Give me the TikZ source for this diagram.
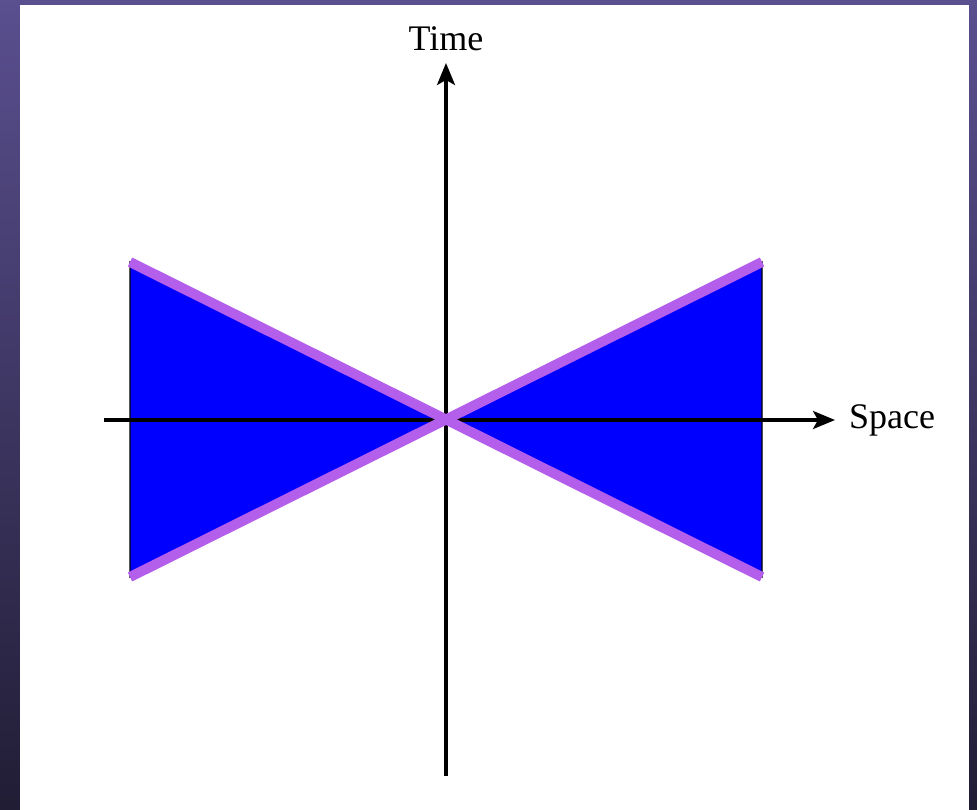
\documentclass[tikz,border=0pt]{standalone}
\usepackage{fontspec}
\setmainfont{Liberation Serif}
\usetikzlibrary{arrows.meta}
\definecolor{bgtop}{HTML}{5A4F8F}
\definecolor{bgbot}{HTML}{211D35}
\definecolor{cone}{HTML}{0000FF}
\definecolor{light}{HTML}{B45EEC}
\tikzset{
  axis/.style={line width=3.2pt, -{Stealth[length=22pt,width=18pt,inset=5pt]}},
  lightline/.style={light, line width=10pt},
  lbl/.style={font=\fontsize{36}{38}\selectfont, inner sep=0pt}
}
\begin{document}
\begin{tikzpicture}[x=1pt,y=-1pt]
\useasboundingbox (0,0) rectangle (977,809);
\shade[top color=bgtop, bottom color=bgbot] (0,0) rectangle (977,809);
\fill[white] (20,5) rectangle (969,812);
\coordinate (O) at (446,420);
\coordinate (LT) at (130,262);
\coordinate (LB) at (130,577);
\coordinate (RT) at (762,262);
\coordinate (RB) at (762,577);
\fill[cone, draw=black, line width=1.2pt] (LT) -- (O) -- (LB) -- cycle;
\fill[cone, draw=black, line width=1.2pt] (RT) -- (O) -- (RB) -- cycle;
\coordinate (xs) at (104,420);
\coordinate (xe) at (835,420);
\coordinate (ys) at (446,776);
\coordinate (ye) at (446,63);
\draw[axis] (xs) -- (xe);
\draw[axis] (ys) -- (ye);
\draw[lightline] (LT) -- (RB);
\draw[lightline] (LB) -- (RT);
\node[lbl, anchor=west] (space) at (849,420) {Space};
\node[lbl, anchor=base] (time) at (446,50) {Time};
\end{tikzpicture}
\end{document}
